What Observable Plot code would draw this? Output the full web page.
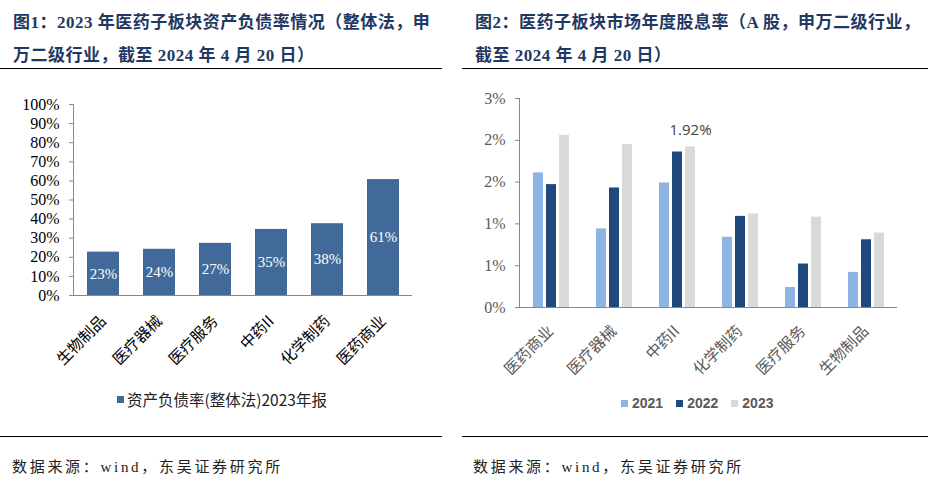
<!DOCTYPE html>
<html>
<head>
<meta charset="utf-8">
<script src="https://cdn.jsdelivr.net/npm/d3@7"></script>
<script src="https://cdn.jsdelivr.net/npm/@observablehq/plot@0.6"></script>
<style>
  html, body { margin: 0; padding: 0; background: #fff; }
  body { width: 936px; height: 482px; position: relative; overflow: hidden; }
  .title { position: absolute; top: 6px; font-family: "Liberation Serif", "Noto Sans CJK SC", serif; font-weight: bold; font-size: 17px; line-height: 33px; color: #1F3864; letter-spacing: 0.5px; white-space: nowrap; }
  .rule { position: absolute; height: 0; border-top: 1.5px solid #000; }
  .footer { position: absolute; top: 455px; font-family: "Liberation Serif", "Noto Sans CJK SC", serif; font-size: 15px; letter-spacing: 2.7px; color: #222; white-space: nowrap; }
  .chart { position: absolute; top: 80px; }
  .legend { position: absolute; display: flex; align-items: center; white-space: nowrap; }
  .sw { width: 7px; height: 7px; display: inline-block; }
</style>
</head>
<body>
<div class="title" style="left:13px">图1：2023 年医药子板块资产负债率情况（整体法，申<br>万二级行业，截至 2024 年 4 月 20 日）</div>
<div class="title" style="left:475px">图2：医药子板块市场年度股息率（A 股，申万二级行业，<br>截至 2024 年 4 月 20 日）</div>
<div class="rule" style="left:0;width:442px;top:68px"></div>
<div class="rule" style="left:462px;width:466px;top:68px"></div>
<div id="c1" class="chart" style="left:0"></div>
<div id="c2" class="chart" style="left:468px"></div>
<div id="lg1" class="legend" style="left:117px;top:388px;font-family:'Noto Sans CJK SC',sans-serif;font-size:15.5px;color:#222"></div>
<div id="lg2" class="legend" style="left:621px;top:395px;font-family:'Liberation Sans',Arial,sans-serif;font-weight:bold;font-size:14px;color:#595959"></div>
<div class="rule" style="left:0;width:442px;top:436px"></div>
<div class="rule" style="left:462px;width:466px;top:436px"></div>
<div class="footer" style="left:12px">数据来源：wind，东吴证券研究所</div>
<div class="footer" style="left:473px">数据来源：wind，东吴证券研究所</div>
<script>
// ---------- Chart 1 data ----------
const cats1 = ["生物制品", "医疗器械", "医疗服务", "中药II", "化学制药", "医药商业"];
const debtRatio = [22.7, 24.2, 27.3, 34.6, 37.6, 60.7];
const yTicks1 = [0, 10, 20, 30, 40, 50, 60, 70, 80, 90, 100];
const series1Name = "资产负债率(整体法)2023年报";
const color1 = "#416A9A";

// ---------- Chart 2 data ----------
const cats2 = ["医药商业", "医疗器械", "中药II", "化学制药", "医疗服务", "生物制品"];
const years = ["2021", "2022", "2023"];
const div2021 = [1.61, 0.94, 1.49, 0.84, 0.24, 0.42];
const div2022 = [1.47, 1.43, 1.86, 1.09, 0.52, 0.81];
const div2023 = [2.06, 1.95, 1.92, 1.12, 1.08, 0.89];
const yTicks2 = [0, 0.5, 1, 1.5, 2, 2.5];
const yTickLabels2 = ["0%", "1%", "1%", "2%", "2%", "3%"];
const yearColors = ["#8EB4E3", "#1F497D", "#D9D9D9"];
const annotCat = "中药II", annotYear = "2023", annotValue = 1.92, annotLabel = "1.92%";

// ---------- Chart 1 ----------
const rows1 = cats1.map((c, i) => ({cat: c, v: debtRatio[i]}));
const serif = "'Liberation Serif', 'Times New Roman', serif";
const sansCJK = "'Noto Sans CJK SC', sans-serif";

const p1 = Plot.plot({
  width: 442, height: 300,
  marginLeft: 73, marginRight: 30, marginTop: 24, marginBottom: 85,
  style: {fontFamily: serif, background: "transparent", overflow: "visible"},
  x: {domain: cats1, paddingInner: 0.43, paddingOuter: 0.215, label: null},
  y: {domain: [0, 100], label: null},
  marks: [
    Plot.barY(rows1, {x: "cat", y: "v", fill: color1}),
    Plot.text(rows1, {x: "cat", y: d => d.v / 2, text: d => Math.round(d.v) + "%", fill: "white", fontSize: 15, fontFamily: serif}),
    Plot.axisY({ticks: yTicks1, tickFormat: d => d + "%", tickSize: 4, tickPadding: 10, fontSize: 16, fontFamily: serif, color: "#000", stroke: "#888", label: null}),
    Plot.axisX({tickSize: 0, tickPadding: 23, tickRotate: -45, fontSize: 15.5, fontFamily: sansCJK, fill: "#000", label: null}),
    Plot.ruleY([0], {stroke: "#888"}),
    Plot.frame({anchor: "left", stroke: "#888"})
  ]
});
document.getElementById("c1").appendChild(p1);

// ---------- Chart 2 ----------
const vals2 = {"2021": div2021, "2022": div2022, "2023": div2023};
const rows2 = [];
cats2.forEach((c, i) => years.forEach(y => rows2.push({cat: c, year: y, v: vals2[y][i]})));
const annot = [{cat: annotCat, year: annotYear, v: annotValue, label: annotLabel}];

const p2 = Plot.plot({
  width: 460, height: 317,
  marginLeft: 50, marginRight: 30, marginTop: 18, marginBottom: 90,
  style: {fontFamily: serif, background: "transparent", overflow: "visible"},
  fx: {domain: cats2, padding: 0, label: null},
  x: {domain: years, paddingInner: 0.236, paddingOuter: 0.88, axis: null},
  y: {domain: [0, 2.5], label: null},
  color: {domain: years, range: yearColors},
  marks: [
    Plot.barY(rows2, {fx: "cat", x: "year", y: "v", fill: "year"}),
    Plot.text(annot, {fx: "cat", x: "year", y: "v", text: "label", dy: -17, fontSize: 15, fontFamily: "'Open Sans', 'Noto Sans', sans-serif", fill: "#404040"}),
    Plot.axisY({ticks: yTicks2, tickFormat: (d, i) => yTickLabels2[i], tickSize: 4, tickPadding: 10, fontSize: 16, fontFamily: serif, color: "#595959", stroke: "#888", label: null}),
    Plot.axisFx({anchor: "bottom", tickSize: 0, tickPadding: 21, tickRotate: -45, fontSize: 15.5, fontFamily: sansCJK, fill: "#595959", label: null}),
    Plot.ruleY([0], {stroke: "#888"}),
    Plot.frame({anchor: "left", stroke: "#888", facet: "super"})
  ]
});
document.getElementById("c2").appendChild(p2);

// ---------- Legends ----------
const lg1 = document.getElementById("lg1");
lg1.innerHTML = `<span class="sw" style="background:${color1}"></span><span style="margin-left:3px">${series1Name}</span>`;
const lg2 = document.getElementById("lg2");
lg2.innerHTML = years.map((y, i) =>
  `<span class="sw" style="background:${yearColors[i]};margin-left:${i ? 13 : 0}px"></span><span style="margin-left:4px">${y}</span>`
).join("");
</script>
</body>
</html>
